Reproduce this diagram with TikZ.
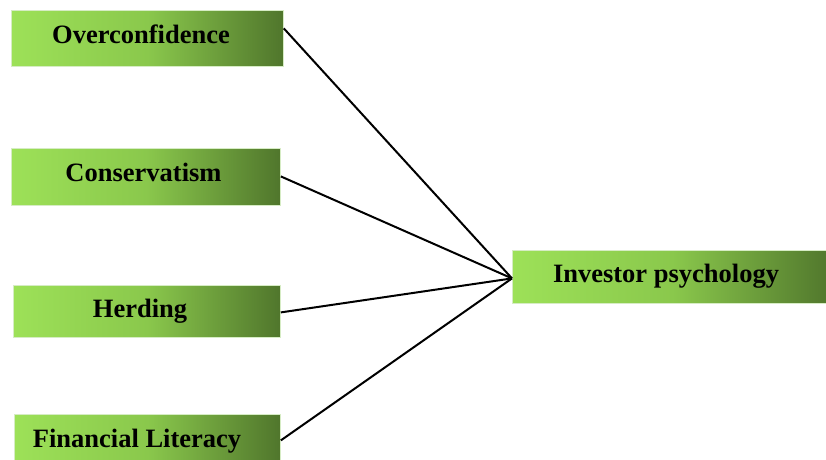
\documentclass[tikz,border=0pt]{standalone}
\usepackage{fontspec}
\setmainfont{Liberation Serif}
\begin{document}
\definecolor{leafL}{RGB}{157,225,88}
\definecolor{leafM}{RGB}{138,200,76}
\definecolor{leafR}{RGB}{80,118,44}
\definecolor{rim}{RGB}{214,236,196}
\begin{tikzpicture}[x=1pt,y=-1pt,
  factor/.style={draw=rim,line width=0.8pt,left color=leafL,right color=leafR,middle color=leafM,anchor=north west,inner sep=0pt},
  caption/.style={anchor=base,inner sep=0pt,font=\bfseries\fontsize{26.5}{30}\selectfont,text=black},
  link/.style={line width=2pt,black}]
\useasboundingbox (0,0) rectangle (826,459);
% factor boxes
\node[factor,minimum width=272pt,minimum height=56pt] (b1) at (11,10) {};
\node[factor,minimum width=269pt,minimum height=57pt] (b2) at (11,148) {};
\node[factor,minimum width=267pt,minimum height=52pt] (b3) at (13,285) {};
\node[factor,minimum width=266pt,minimum height=50pt] (b4) at (14,414) {};
\node[factor,minimum width=320pt,minimum height=53pt] (b5) at (512,250) {};
% labels
\node[caption] (t1) at (141,43) {Overconfidence};
\node[caption] (t2) at (143.5,181) {Conservatism};
\node[caption] (t3) at (140,317) {Herding};
\node[caption] (t4) at (137,447) {Financial Literacy};
\node[caption] (t5) at (666,282) {Investor psychology};
% connectors
\coordinate (hub) at ([yshift=-1.5pt]b5.west);
\coordinate (s1) at ([yshift=10pt]b1.east);
\coordinate (s2) at ([yshift=0.5pt]b2.east);
\coordinate (s3) at ([yshift=-1pt]b3.east);
\coordinate (s4) at ([yshift=-1pt]b4.east);
\foreach \s in {s1,s2,s3,s4} \draw[link] (\s) -- (hub);
\end{tikzpicture}
\end{document}
